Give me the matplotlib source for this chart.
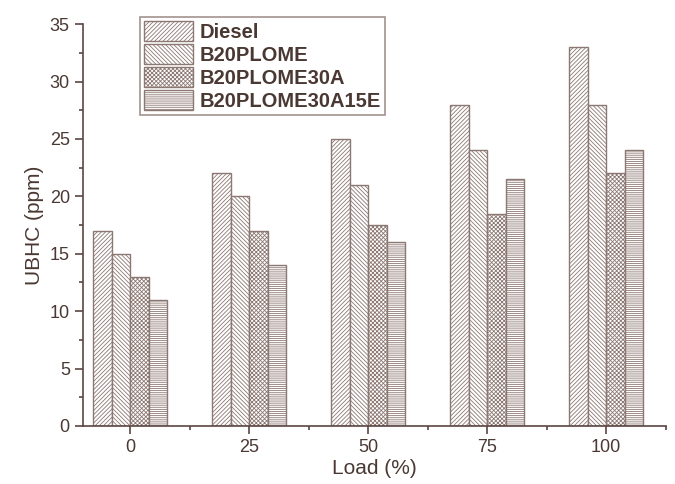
import numpy as np
import matplotlib
matplotlib.use("Agg")
from matplotlib import pyplot as plt

# data
loads = [0, 25, 50, 75, 100]
series = ["Diesel", "B20PLOME", "B20PLOME30A", "B20PLOME30A15E"]
diesel = [17, 22, 25, 28, 33]
b20plome = [15, 20, 21, 24, 28]
b20plome30a = [13, 17, 17.5, 18.5, 22]
b20plome30a15e = [11, 14, 16, 21.5, 24]
values = [diesel, b20plome, b20plome30a, b20plome30a15e]
hatches = ["////////", "\\\\\\\\\\\\\\\\", "xxxxxxxx", "--------"]

edge = "#8c7873"
txt = "#4a3833"

plt.rcParams["font.family"] = ["Liberation Sans", "DejaVu Sans"]
plt.rcParams["hatch.color"] = edge
plt.rcParams["hatch.linewidth"] = 0.6

fig = plt.figure(figsize=(6.75, 4.84), dpi=100)
ax = fig.add_axes([0.123, 0.12, 0.864, 0.83])

w = 3.9
x = np.array(loads, dtype=float)
for i, (name, vals, h) in enumerate(zip(series, values, hatches)):
    ax.bar(x + (i - 1.5) * w, vals, width=w, color="white", edgecolor=edge,
           hatch=h, linewidth=1.0, label=name)

ax.set_xlim(-9.9, 112.6)
ax.set_ylim(0, 35)
ax.set_xticks(loads)
ax.set_xticks([12.5, 37.5, 62.5, 87.5, 112.5], minor=True)
ax.set_yticks(range(0, 36, 5))
ax.set_yticks(np.arange(2.5, 35, 5), minor=True)

for s in ["top", "right"]:
    ax.spines[s].set_visible(False)
for s in ["left", "bottom"]:
    ax.spines[s].set_color("#5a4540")
    ax.spines[s].set_linewidth(1.2)

ax.tick_params(which="major", length=6, width=1.2, color="#5a4540",
               labelsize=13, labelcolor=txt)
ax.tick_params(which="minor", length=3, width=1.2, color="#5a4540")

ax.set_xlabel("Load (%)", fontsize=15, color=txt, labelpad=2)
ax.set_ylabel("UBHC (ppm)", fontsize=15, color=txt, labelpad=4)

leg = ax.legend(loc="upper left", bbox_to_anchor=(0.098, 1.017), fontsize=14.5,
                frameon=True, fancybox=False, borderpad=0.2, labelspacing=0.12,
                handlelength=2.4, handleheight=1.1, handletextpad=0.35,
                borderaxespad=0.0)
leg.get_frame().set_edgecolor(edge)
leg.get_frame().set_linewidth(1.2)
for t in leg.get_texts():
    t.set_color(txt)
    t.set_fontweight("bold")

fig.savefig("out.png", dpi=100)
